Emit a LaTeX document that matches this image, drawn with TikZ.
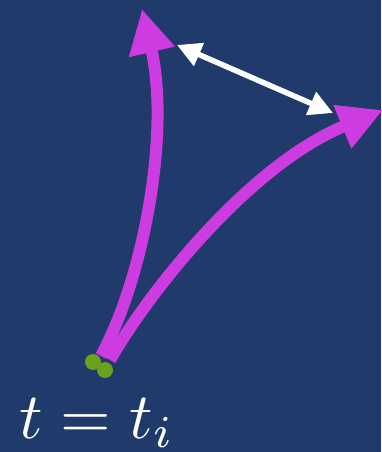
\documentclass[tikz,border=0pt]{standalone}
\usetikzlibrary{arrows.meta}
\definecolor{bg}{HTML}{1F3A6B}
\definecolor{mag}{HTML}{CC3CE0}
\definecolor{grn}{HTML}{6AA220}
\begin{document}
\begin{tikzpicture}[x=1pt,y=-1pt,
  magarrow/.style={draw=mag,line width=12pt,-{Triangle[length=44pt,width=44pt]}},
  whitearrow/.style={draw=white,line width=5.5pt,{Triangle[length=24pt,width=24pt]}-{Triangle[length=24pt,width=24pt]}},
  dot/.style={circle,fill=grn,minimum size=16pt,inner sep=0pt}]
\fill[bg] (0,0) rectangle (381,452);
\useasboundingbox (0,0) rectangle (381,452);
\coordinate (s1) at (101,356);
\coordinate (s2) at (110,360);
\coordinate (e1) at (142,9);
\coordinate (e2) at (383,110);
\coordinate (w1) at (177,45);
\coordinate (w2) at (333,113);
\draw[magarrow] (s1) .. controls (145,275) and (170,130) .. (e1);
\draw[magarrow] (s2) .. controls (150,290) and (250,165) .. (e2);
\draw[whitearrow] (w1) -- (w2);
\node[dot] (g1) at (93,362) {};
\node[dot] (g2) at (105,370) {};
\node[anchor=base west,inner sep=0pt,text=white,scale=6.5,font=\fontsize{10}{12}\selectfont] (lbl) at (18,438) {$t = t_i$};
\end{tikzpicture}
\end{document}
